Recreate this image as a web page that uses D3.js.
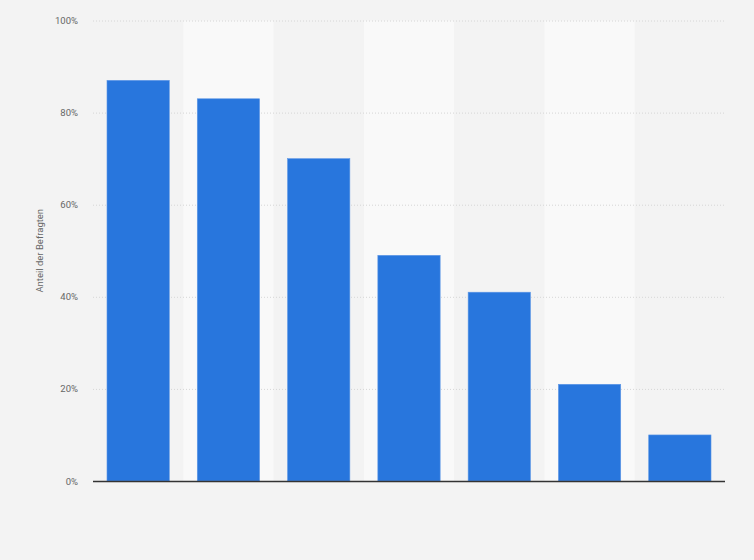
<!DOCTYPE html>
<html><head><meta charset="utf-8">
<script src="https://cdn.jsdelivr.net/npm/d3@7"></script>
<style>body{margin:0;background:#f3f3f3;}svg{display:block;}</style>
</head><body>
<svg id="c" width="754" height="560"></svg>
<script>
const categories = ["1","2","3","4","5","6","7"];
const values = [87, 83, 70, 49, 41, 21, 10];
const yTicks = [0, 20, 40, 60, 80, 100];
const yTitle = "Anteil der Befragten";

const svg = d3.select("#c");
const W = 754, H = 560;
const m = {left: 93, right: 29, top: 20.5, bottom: 79};
svg.append("rect").attr("width", W).attr("height", H).attr("fill", "#f3f3f3");

const x = d3.scaleBand().domain(categories).range([m.left, W - m.right]).paddingInner(0.31).paddingOuter(0.155);
const xb = d3.scaleBand().domain(categories).range([m.left, W - m.right]).padding(0);
const y = d3.scaleLinear().domain([0, 100]).range([H - m.bottom, m.top]);

// alternating bands
svg.append("g").selectAll("rect").data(categories.filter((d, i) => i % 2 === 1)).join("rect")
  .attr("x", d => xb(d)).attr("width", xb.bandwidth())
  .attr("y", y(100)).attr("height", y(0) - y(100))
  .attr("fill", "#f9f9f9");

// grid
const yAxis = d3.axisLeft(y).tickValues(yTicks).tickFormat(d => d + "%").tickSize(-(W - m.left - m.right)).tickPadding(15);
const ga = svg.append("g").attr("transform", `translate(${m.left},0)`).call(yAxis);
ga.select(".domain").remove();
ga.selectAll(".tick line").attr("stroke", "#d6d6d6").attr("stroke-dasharray", "1,2").attr("stroke-width", 1);
ga.selectAll(".tick text").attr("fill", "#666").attr("font-family", "Roboto, Arial, sans-serif").attr("font-size", 9.5);

// bars
svg.append("g").selectAll("rect").data(values).join("rect")
  .attr("x", (d, i) => x(categories[i])).attr("width", x.bandwidth())
  .attr("y", d => y(d)).attr("height", d => y(0) - y(d))
  .attr("fill", "#2876dd").attr("stroke", "#5d97e6").attr("stroke-width", 0.6);

// baseline
svg.append("line").attr("x1", m.left).attr("x2", W - m.right)
  .attr("y1", y(0) + 0.5).attr("y2", y(0) + 0.5).attr("stroke", "#333").attr("stroke-width", 1.4);

// y title
svg.append("text").attr("transform", `translate(43,${(y(0) + y(100)) / 2}) rotate(-90)`)
  .attr("text-anchor", "middle").attr("fill", "#666")
  .attr("font-family", "Roboto, Arial, sans-serif").attr("font-size", 9.5).text(yTitle);
</script>
</body></html>
